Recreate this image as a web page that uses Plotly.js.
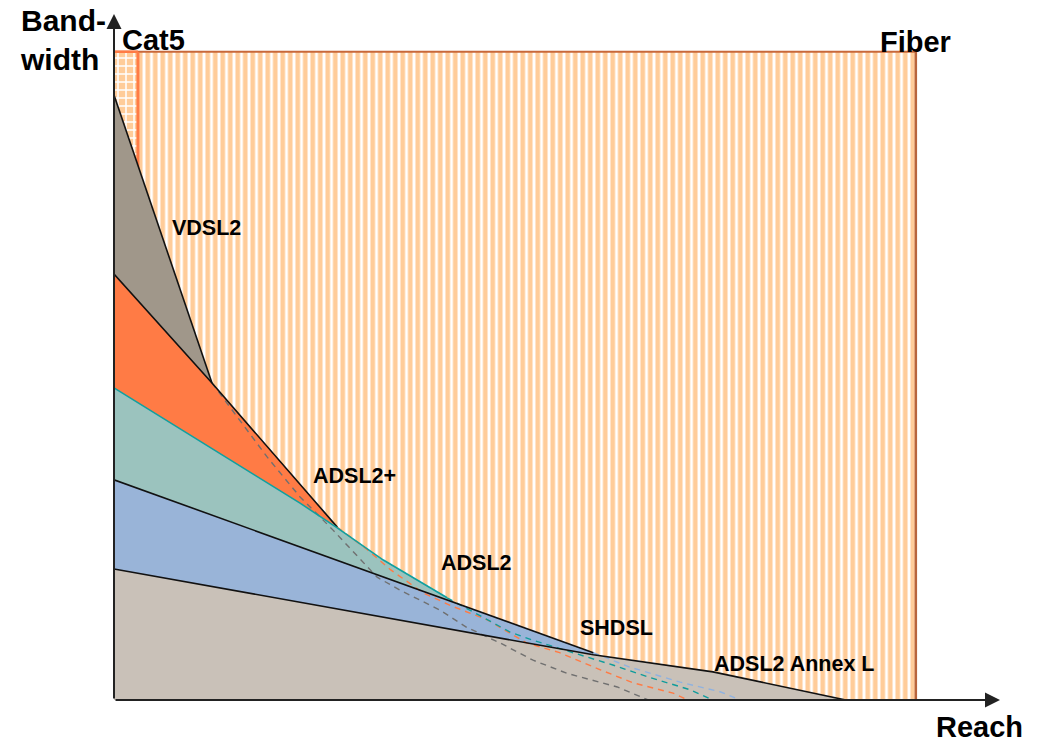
<!DOCTYPE html>
<html>
<head>
<meta charset="utf-8">
<script src="https://cdn.plot.ly/plotly-3.0.1.min.js"></script>
<style>
  html, body { margin: 0; padding: 0; background: #ffffff; }
  #chart { width: 1040px; height: 744px; }
</style>
</head>
<body>
<div id="chart"></div>
<script>
// ---- Data (arbitrary units: reach 0..100, bandwidth 0..100) ----
// Outer regions
var fiberX = [0, 90.5, 90.5, 0];
var fiberY = [0, 0, 94.5, 94.5];
var cat5X = [0, 2.7, 2.7, 0];
var cat5Y = [0, 0, 94.5, 94.5];

// Technology curves: solid part (envelope) and dashed continuation
var vdsl2X = [0, 11.06];
var vdsl2Y = [88.2, 46.2];
var vdsl2DashX = [11.06, 13.1, 17.3, 21.0, 24.7, 29.7, 32.3, 36.8, 39.8, 43.6, 47.3, 51.1, 56.8, 60.3];
var vdsl2DashY = [46.2, 42.7, 35.4, 29.6, 24.8, 17.9, 16.0, 13.1, 10.6, 8.3, 5.8, 3.9, 1.9, 0];

var adsl2pX = [0, 11.06, 25.2];
var adsl2pY = [62.1, 46.2, 25.2];
var adsl2pDashX = [25.2, 28.6, 31.2, 34.9, 38.3, 42.1, 46.6, 50.3, 54.9, 58.6, 63.1, 64.8];
var adsl2pDashY = [25.2, 21.9, 19.0, 15.6, 13.6, 11.7, 8.3, 6.9, 4.4, 2.5, 1.0, 0];

var adsl2X = [0, 21.0, 25.2, 30.4, 37.6];
var adsl2Y = [45.5, 28.7, 25.1, 20.4, 14.9];
var adsl2DashX = [37.6, 44.7, 47.3, 51.8, 56.3, 60.2, 65.0, 67.6];
var adsl2DashY = [14.9, 9.9, 8.7, 6.9, 5.1, 3.4, 1.5, 0];

var shdslX = [0, 54.1];
var shdslY = [32.1, 6.9];
var shdslDashX = [54.1, 58.2, 63.9, 68.4, 70.7];
var shdslDashY = [6.9, 4.8, 2.6, 1.2, 0];

var annexLX = [0, 54.1, 67.6, 82.6];
var annexLY = [19.1, 6.6, 4.1, 0];

// Labels
var labelText = ['VDSL2', 'ADSL2+', 'ADSL2', 'SHDSL', 'ADSL2 Annex L'];
var labelX = [10.4, 27.2, 40.9, 56.7, 76.7];
var labelY = [68.8, 32.7, 20.0, 10.5, 5.2];

// ---- Helpers ----
function region(xs, ys, dx, dy, color) {
  var px = xs.concat(dx.slice(1)).concat([0]);
  var py = ys.concat(dy.slice(1)).concat([0]);
  return {x: px, y: py, type: 'scatter', mode: 'lines', fill: 'toself',
          fillcolor: color, line: {width: 0}, hoverinfo: 'skip', showlegend: false};
}
function line(xs, ys, color, width, dash) {
  return {x: xs, y: ys, type: 'scatter', mode: 'lines',
          line: {color: color, width: width, dash: dash || 'solid'},
          hoverinfo: 'skip', showlegend: false};
}

var traces = [];
// Fiber background
traces.push({x: fiberX, y: fiberY, type: 'scatter', mode: 'lines', fill: 'toself',
  fillcolor: '#FFCC99', line: {width: 0},
  fillpattern: {shape: '|', fgcolor: '#FFCC99', bgcolor: '#FFFFFF', size: 7.5, solidity: 0.62},
  hoverinfo: 'skip', showlegend: false});
traces.push(line([0, 90.5], [94.5, 94.5], '#C8683A', 2));
traces.push(line([90.5, 90.5], [94.5, 0], '#B8643C', 2.5));
// Cat5
traces.push({x: cat5X, y: cat5Y, type: 'scatter', mode: 'lines', fill: 'toself',
  fillcolor: '#FFCC99', line: {width: 0},
  fillpattern: {shape: '+', fgcolor: '#FFFFFF', bgcolor: '#FFCC99', size: 8, solidity: 0.35},
  hoverinfo: 'skip', showlegend: false});
traces.push(line([0, 2.7], [94.5, 94.5], '#FF7B45', 2.5));
traces.push(line([2.7, 2.7], [94.5, 0], '#FF7B45', 3));

// Technology fills (back to front)
traces.push(region(vdsl2X, vdsl2Y, vdsl2DashX, vdsl2DashY, '#A0978A'));
traces.push(region(adsl2pX, adsl2pY, adsl2pDashX, adsl2pDashY, '#FF7B45'));
traces.push(region(adsl2X, adsl2Y, adsl2DashX, adsl2DashY, '#9BC3BE'));
traces.push(region(shdslX, shdslY, shdslDashX, shdslDashY, '#99B4D8'));
traces.push(region(annexLX, annexLY, [annexLX[annexLX.length-1]], [0], '#C9C1B8'));

// Dashed continuations
var dashStyle = '6px,5px';
traces.push(line(vdsl2DashX, vdsl2DashY, '#707070', 1.4, dashStyle));
traces.push(line(adsl2pDashX, adsl2pDashY, '#FF7B45', 1.4, dashStyle));
traces.push(line(adsl2DashX, adsl2DashY, '#109C9C', 1.4, dashStyle));
traces.push(line(shdslDashX, shdslDashY, '#8FB2E0', 1.4, dashStyle));
// Solid envelopes
traces.push(line(vdsl2X, vdsl2Y, '#111111', 1.6));
traces.push(line(adsl2pX, adsl2pY, '#111111', 1.6));
traces.push(line(adsl2X, adsl2Y, '#10A0A0', 1.6));
traces.push(line(shdslX, shdslY, '#111111', 1.6));
traces.push(line(annexLX, annexLY, '#111111', 1.6));

var fam = 'Liberation Sans, Arial, sans-serif';
var annotations = [];
for (var i = 0; i < labelText.length; i++) {
  annotations.push({x: labelX[i], y: labelY[i], xref: 'x', yref: 'y', text: '<b>' + labelText[i] + '</b>',
    showarrow: false, font: {family: fam, size: 21.5, color: '#000'}});
}
annotations.push({x: 4.5, y: 96.2, xref: 'x', yref: 'y', text: '<b>Cat5</b>', showarrow: false,
  font: {family: fam, size: 29, color: '#000'}});
annotations.push({x: 90.5, y: 95.9, xref: 'x', yref: 'y', text: '<b>Fiber</b>', showarrow: false,
  font: {family: fam, size: 29, color: '#000'}});
annotations.push({x: -0.108, y: 0.962, xref: 'paper', yref: 'paper', text: '<b>Band-</b><br><b>width</b>', showarrow: false,
  xanchor: 'left', yanchor: 'middle', align: 'left',
  font: {family: fam, size: 30, color: '#000'}});
annotations.push({x: 0.977, y: -0.040, xref: 'paper', yref: 'paper', text: '<b>Reach</b>', showarrow: false,
  xanchor: 'center', yanchor: 'middle',
  font: {family: fam, size: 29, color: '#000'}});
// Axis arrows
annotations.push({x: 100, y: 0, ax: 0, ay: 0, xref: 'x', yref: 'y', axref: 'x', ayref: 'y', text: '',
  showarrow: true, arrowhead: 2, arrowsize: 1.5, arrowwidth: 2, arrowcolor: '#222', standoff: 0});
annotations.push({x: 0, y: 100, ax: 0, ay: 0, xref: 'x', yref: 'y', axref: 'x', ayref: 'y', text: '',
  showarrow: true, arrowhead: 2, arrowsize: 1.5, arrowwidth: 2, arrowcolor: '#222', standoff: 0});

var layout = {
  width: 1040, height: 744,
  margin: {l: 114, r: 40, t: 14, b: 44},
  paper_bgcolor: '#FFFFFF', plot_bgcolor: '#FFFFFF',
  showlegend: false,
  xaxis: {range: [0, 100], showgrid: false, zeroline: false, showticklabels: false, showline: false, ticks: '', fixedrange: true},
  yaxis: {range: [0, 100], showgrid: false, zeroline: false, showticklabels: false, showline: false, ticks: '', fixedrange: true},
  annotations: annotations
};

Plotly.newPlot('chart', traces, layout, {displayModeBar: false, staticPlot: true});
</script>
</body>
</html>
